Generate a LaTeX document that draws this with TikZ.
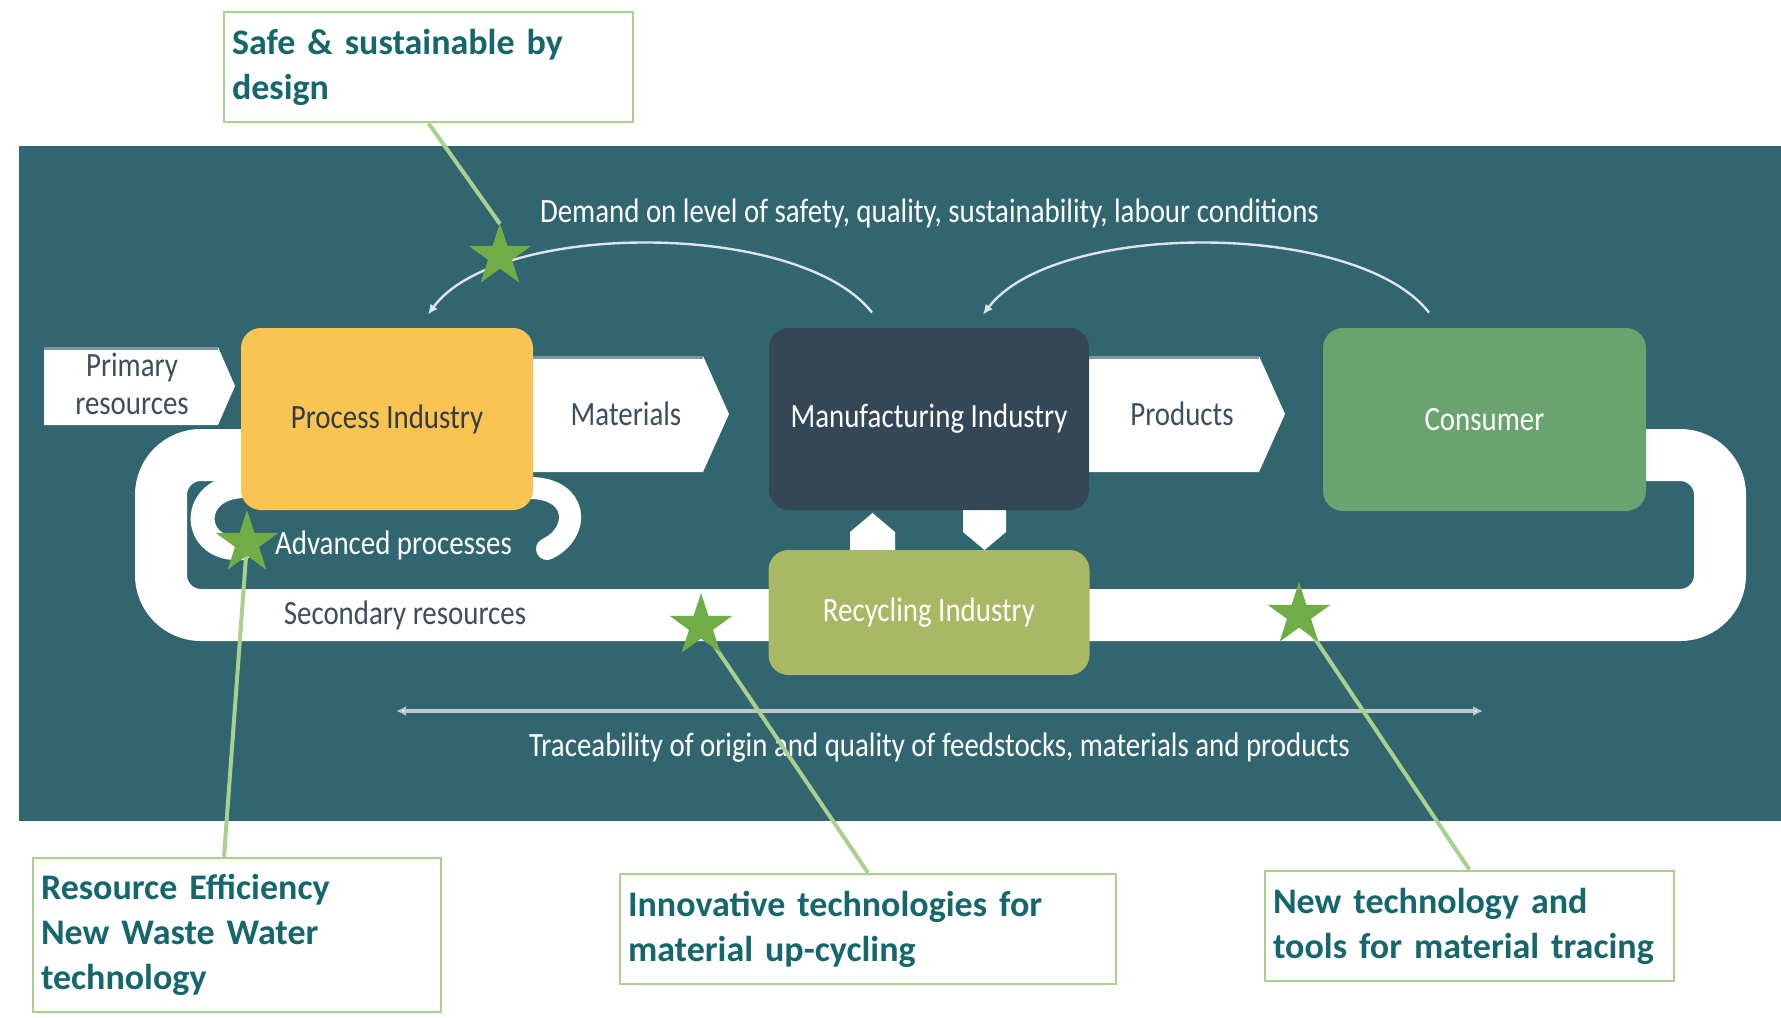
\documentclass[tikz,border=0pt]{standalone}
\usepackage{fontspec}
\setmainfont{Carlito}
\usetikzlibrary{shapes.geometric,arrows.meta}

\definecolor{tealBg}{RGB}{49,102,112}
\definecolor{processYellow}{RGB}{249,196,84}
\definecolor{manuDark}{RGB}{51,71,86}
\definecolor{consumerGreen}{RGB}{104,163,112}
\definecolor{recycleGreen}{RGB}{169,184,98}
\definecolor{calloutText}{RGB}{22,102,110}
\definecolor{calloutLine}{RGB}{169,209,142}
\definecolor{starGreen}{RGB}{112,173,71}
\definecolor{labelGray}{RGB}{62,78,92}
\definecolor{procText}{RGB}{51,60,66}
\definecolor{arcGray}{RGB}{222,228,231}
\definecolor{traceGray}{RGB}{190,200,205}
\definecolor{chevShade}{RGB}{125,150,158}

\newcommand{\narrow}[1]{\scalebox{0.85}[1]{#1}}

\begin{document}
\begin{tikzpicture}[
	x=0.5pt, y=-0.5pt,
	box/.style={
		rectangle,
		rounded corners=10pt,
		inner sep=0pt,
		text=white,
		font=\fontsize{17}{20}\selectfont
	},
	chevron/.style={fill=white},
	flowtext/.style={
		inner sep=0pt,
		text=white,
		font=\fontsize{17}{20}\selectfont
	},
	callout/.style={
		rectangle,
		draw=calloutLine,
		line width=1.2pt,
		fill=white,
		align=left,
		inner sep=4pt,
		text=calloutText,
		font=\bfseries\fontsize{18}{22.5}\selectfont
	},
	starmark/.style={
		star,
		star points=5,
		star point ratio=2.618,
		minimum size=33pt,
		inner sep=0pt,
		fill=starGreen
	},
	pointer/.style={draw=calloutLine, line width=2pt},
	demand/.style={draw=arcGray, line width=1.2pt, -{Latex[length=5pt,width=4.5pt]}},
]
	\useasboundingbox (0,0) rectangle (1781,1017);
	\fill[white] (0,0) rectangle (1781,1017);
	\fill[tealBg] (19,146) rectangle (1781,821);

	% secondary resources loop
	\draw[white, line width=26pt, rounded corners=20pt]
		(241,455) -- (161,455) -- (161,615) -- (1720,615) -- (1720,455) -- (1646,455);

	% advanced processes loops
	\draw[white, line width=12pt, line cap=round]
		(245,486) .. controls (188,486) and (190,552) .. (242,548);
	\draw[white, line width=11pt, line cap=round]
		(530,488) .. controls (578,488) and (582,532) .. (547,549);

	% white arrows
	\fill[chevron] (44,347) -- (218,347) -- (235,386) -- (218,425) -- (44,425) -- cycle;
	\fill[chevron] (520,356) -- (703,356) -- (729,414) -- (703,472) -- (520,472) -- cycle;
	\fill[chevron] (1080,356) -- (1259,356) -- (1285,414) -- (1259,472) -- (1080,472) -- cycle;
	\draw[chevShade, line width=1.5pt] (44,348.5) -- (218,348.5);
	\draw[chevShade, line width=1.5pt] (520,357.5) -- (703,357.5);
	\draw[chevShade, line width=1.5pt] (1080,357.5) -- (1259,357.5);
	\fill[chevron] (850,550) -- (850,532) -- (872.5,513) -- (895,532) -- (895,550) -- cycle;
	\fill[chevron] (963,505) -- (963,532) -- (984.5,550) -- (1006,532) -- (1006,505) -- cycle;

	\node [flowtext, text=labelGray, align=center] (primary) at (132,387)
		{\narrow{\begin{tabular}{@{}c@{}}Primary\\[-1pt]resources\end{tabular}}};
	\node [flowtext, text=labelGray] (materials) at (626,414) {\narrow{Materials}};
	\node [flowtext, text=labelGray] (products) at (1182,414) {\narrow{Products}};

	\node [box, fill=processYellow, text=procText, minimum width=146pt, minimum height=91pt] (process) at (387,419) {\narrow{Process Industry}};
	\node [box, fill=manuDark, minimum width=160pt, minimum height=91pt] (manu) at (929,419) {\narrow{Manufacturing Industry}};
	\node [box, fill=consumerGreen, minimum width=161.5pt, minimum height=91.5pt] (consumer) at (1484.5,419.5) {\narrow{Consumer}};
	\node [box, fill=recycleGreen, minimum width=160.5pt, minimum height=62.5pt] (recycling) at (929,612.5) {\narrow{Recycling Industry}};

	% demand arcs
	\draw [demand] ([xshift=-28.5pt,yshift=7.5pt]manu.north)
		.. controls (800,220) and (497,220) .. ([xshift=20.5pt,yshift=6.5pt]process.north);
	\draw [demand] ([xshift=-27.75pt,yshift=7.5pt]consumer.north)
		.. controls (1357,220) and (1055,220) .. ([xshift=27pt,yshift=6.5pt]manu.north);

	\node [flowtext, anchor=base] (demandText) at (929.5,222) {\narrow{Demand on level of safety, quality, sustainability, labour conditions}};
	\node [flowtext, anchor=base] (advanced) at (393.5,554) {\narrow{Advanced processes}};
	\node [flowtext, anchor=base, text=labelGray] (secondary) at (405,624) {\narrow{Secondary resources}};

	% traceability
	\coordinate (traceL) at (396,711);
	\coordinate (traceR) at (1483,711);
	\draw [traceGray, line width=2pt, {Latex[length=5pt,width=5pt,fill=white]}-{Latex[length=5pt,width=5pt,fill=white]}] (traceL) -- (traceR);
	\node [flowtext, anchor=base] (trace) at (939.5,756) {\narrow{Traceability of origin and quality of feedstocks, materials and products}};

	% callouts
	\node [callout, text width=196.5pt, minimum height=55pt] (safe) at (428.5,67) {Safe \& sustainable by\\design};
	\node [callout, text width=196pt, minimum height=77pt] (resource) at (237,935) {Resource Efficiency\\New Waste Water\\technology};
	\node [callout, text width=240pt, minimum height=55pt] (innov) at (868,929) {Innovative technologies for\\material up-cycling};
	\node [callout, text width=196.5pt, minimum height=55pt] (tracing) at (1469.5,926) {New technology and\\tools for material tracing};

	\coordinate (starSafe) at (500,256);
	\coordinate (starRes) at (247,543);
	\coordinate (starInnov) at (701,626);
	\coordinate (starTrace) at (1299,615);

	\draw [pointer] (safe.south) -- ([yshift=16pt]starSafe);
	\draw [pointer] ([xshift=-6.5pt]resource.north) -- (starRes);
	\draw [pointer] (innov.north) -- (starInnov);
	\draw [pointer] (tracing.north) -- (starTrace);

	\node [starmark] (safeStar) at (starSafe) {};
	\node [starmark] (resStar) at (starRes) {};
	\node [starmark] (innovStar) at (starInnov) {};
	\node [starmark] (traceStar) at (starTrace) {};
\end{tikzpicture}
\end{document}
